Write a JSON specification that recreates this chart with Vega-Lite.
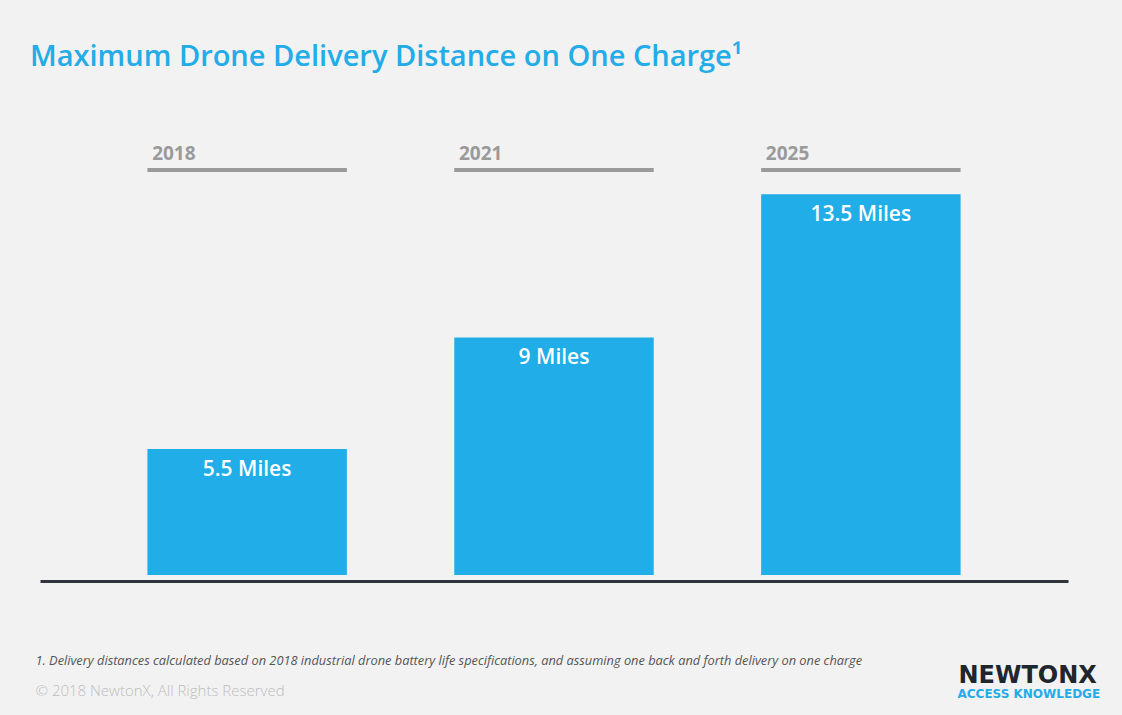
{
  "$schema": "https://vega.github.io/schema/vega-lite/v6.json",
  "autosize": "none",
  "width": 1028,
  "height": 405,
  "padding": {"left": 40, "top": 170, "right": 54, "bottom": 140},
  "background": "#f2f2f2",
  "config": {"view": {"stroke": null}, "font": "Open Sans"},
  "title": {
    "text": "Maximum Drone Delivery Distance on One Charge¹",
    "anchor": "start",
    "frame": "group",
    "dx": -10,
    "offset": 49,
    "baseline": "alphabetic",
    "font": "Open Sans",
    "fontSize": 29,
    "fontWeight": 600,
    "color": "#22ace8"
  },
  "data": {
    "values": [
      {"year": "2018", "miles": 5.5, "label": "5.5 Miles"},
      {"year": "2021", "miles": 9, "label": "9 Miles"},
      {"year": "2025", "miles": 13.5, "label": "13.5 Miles"}
    ]
  },
  "resolve": {"axis": {"x": "independent", "y": "independent"}},
  "layer": [
    {
      "mark": {"type": "bar", "color": "#20ade8"},
      "encoding": {
        "x": {
          "field": "year", "type": "nominal", "sort": null,
          "scale": {"paddingInner": 0.35, "paddingOuter": 0.35},
          "axis": {
            "orient": "bottom", "labels": false, "ticks": false, "grid": false,
            "domain": true, "domainColor": "#30363c", "domainWidth": 3, "offset": 6,
            "title": "1. Delivery distances calculated based on 2018 industrial drone battery life specifications, and assuming one back and forth delivery on one charge",
            "titleFont": "Open Sans", "titleFontStyle": "italic", "titleFontWeight": "normal",
            "titleFontSize": 12.8, "titleColor": "#555555",
            "titleAnchor": "start", "titleAlign": "left", "titleBaseline": "alphabetic",
            "titleX": -5, "titleY": 83
          }
        },
        "y": {
          "field": "miles", "type": "quantitative",
          "scale": {"domain": [1.54, 14.26], "zero": false, "nice": false},
          "axis": {
            "orient": "left", "labels": false, "ticks": false, "grid": false, "domain": false,
            "title": "© 2018 NewtonX, All Rights Reserved",
            "titleFont": "Open Sans", "titleFontWeight": 300, "titleFontSize": 15,
            "titleColor": "#bdbdbd", "titleAngle": 0, "titleAlign": "left",
            "titleBaseline": "alphabetic", "titleX": -5, "titleY": 525
          }
        },
        "y2": {"datum": 1.54}
      }
    },
    {
      "mark": {"type": "text", "color": "#ffffff", "font": "Open Sans", "fontWeight": 600, "fontSize": 21, "baseline": "top", "dy": 10},
      "encoding": {
        "x": {
          "field": "year", "type": "nominal", "sort": null,
          "axis": {
            "orient": "top", "ticks": false, "tickSize": 0, "domain": false, "grid": false,
            "labelAngle": 0, "labelAlign": "left", "labelOffset": -95, "labelPadding": 11,
            "labelBaseline": "alphabetic", "labelFont": "Open Sans", "labelFontWeight": "bold",
            "labelFontSize": 19, "labelColor": "#9a9a9a",
            "title": "ACCESS KNOWLEDGE", "titleFont": "DejaVu Sans", "titleFontWeight": "bold",
            "titleFontSize": 12, "titleColor": "#22ace8", "titleAngle": 0,
            "titleAlign": "left", "titleAnchor": "start", "titleBaseline": "alphabetic",
            "titleX": 917, "titleY": 527
          }
        },
        "y": {
          "field": "miles", "type": "quantitative",
          "axis": {
            "orient": "right", "labels": false, "ticks": false, "grid": false, "domain": false,
            "title": "NEWTONX", "titleFont": "DejaVu Sans", "titleFontWeight": "bold",
            "titleFontSize": 24, "titleColor": "#1f262d", "titleAngle": 0,
            "titleAlign": "left", "titleBaseline": "alphabetic", "titleX": -110, "titleY": 512
          }
        },
        "text": {"field": "label", "type": "nominal"}
      }
    },
    {
      "mark": {"type": "bar", "color": "#9a9a9a"},
      "encoding": {
        "x": {"field": "year", "type": "nominal", "sort": null, "axis": null},
        "y": {"datum": 14.32, "type": "quantitative", "axis": null},
        "y2": {"datum": 14.2}
      }
    }
  ]
}
